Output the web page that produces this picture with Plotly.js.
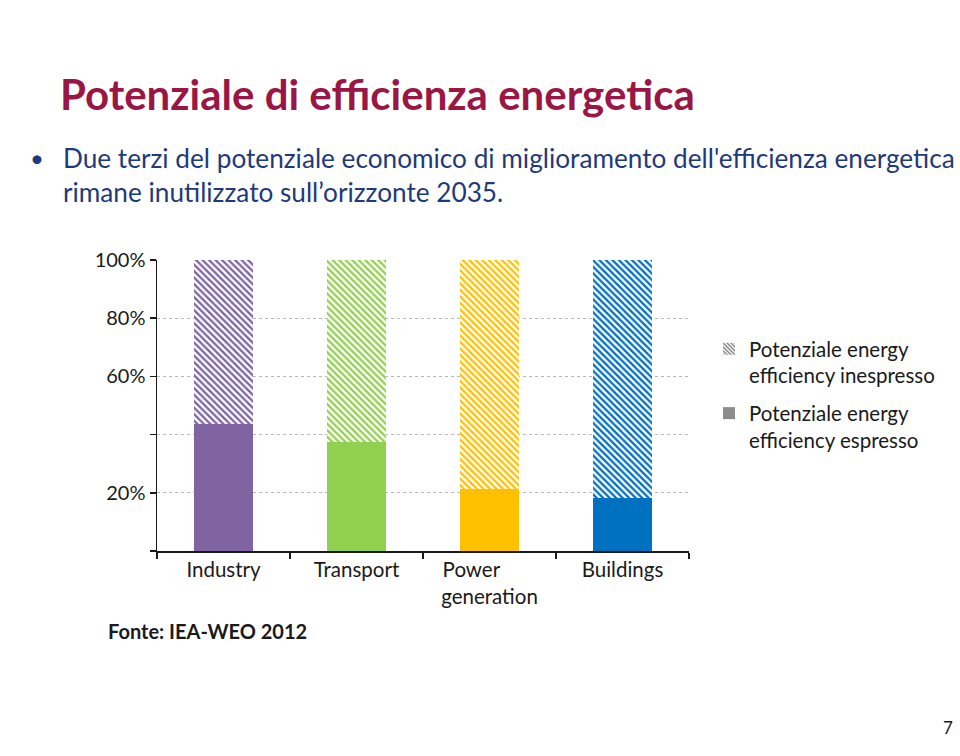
<!DOCTYPE html>
<html>
<head>
<meta charset="utf-8">
<script src="https://cdn.plot.ly/plotly-3.0.1.min.js"></script>
<style>
  html, body { margin: 0; padding: 0; background: #ffffff; }
  #chart { width: 960px; height: 756px; }
</style>
</head>
<body>
<div id="chart"></div>
<script>
// ---- data ----
const categories = ["Industry", "Transport", "Power\u00A0\u00A0\u00A0\u00A0\u00A0\u00A0\u00A0<br>generation", "Buildings"];
const espresso   = [0.436, 0.375, 0.213, 0.182];   // solid part
const inespresso = [0.564, 0.625, 0.787, 0.818];   // hatched part
const barColors  = ["#8064A2", "#92D050", "#FFC000", "#0070C0"];
const yTickVals  = [0, 0.2, 0.4, 0.6, 0.8, 1.0];
const yTickText  = ["", "20%", "", "60%", "80%", "100%"];
const legendNames = ["Potenziale energy<br>efficiency inespresso", "Potenziale energy<br>efficiency espresso"];

const FONT = "Lato, 'Open Sans', sans-serif";

const traces = [
  {
    type: "bar", x: categories, y: espresso,
    marker: { color: barColors, line: { width: 0 } },
    showlegend: false, hoverinfo: "skip"
  },
  {
    type: "bar", x: categories, y: inespresso,
    marker: { color: "#ffffff",
      pattern: { shape: "\\", fgcolor: barColors, bgcolor: "#ffffff", fgopacity: 1, size: 4.6, solidity: 0.5, fillmode: "replace" },
      line: { width: 0 } },
    showlegend: false, hoverinfo: "skip"
  },
  // legend-only entries (grey swatches as in the reference)
  {
    type: "bar", x: [categories[0]], y: [null], name: legendNames[0], legendgroup: "a",
    marker: { color: "#ffffff", pattern: { shape: "\\", fgcolor: "#7f7f7f", bgcolor: "#ffffff", fgopacity: 1, size: 3.5, solidity: 0.5, fillmode: "replace" } }
  },
  {
    type: "bar", x: [categories[0]], y: [null], name: legendNames[1], legendgroup: "b",
    marker: { color: "#8c8c8c" }
  }
];

const L = 157, R = 689, T = 260, B = 551;
const px = x => (x - L) / (R - L);
const py = y => (B - y) / (B - T);

const layout = {
  width: 960, height: 756,
  margin: { l: L, r: 960 - R, t: T, b: 756 - B, pad: 0 },
  paper_bgcolor: "#ffffff", plot_bgcolor: "rgba(0,0,0,0)",
  barmode: "stack", bargap: 0.56,
  font: { family: FONT, color: "#1a1a1a", size: 20 },
  title: {
    text: "<b>Potenziale di efficienza energetica</b>",
    font: { family: FONT, size: 42, color: "#9A1745" },
    x: 60 / 960, xanchor: "left", xref: "container",
    y: 1 - 95 / 756, yanchor: "middle", yref: "container"
  },
  xaxis: {
    type: "category",
    showline: true, linecolor: "#1a1a1a", linewidth: 1.5,
    ticks: "outside", tickson: "boundaries", ticklen: 6, tickcolor: "#1a1a1a", tickwidth: 1.5,
    showgrid: false, zeroline: false,
    tickfont: { family: FONT, size: 20.5, color: "#1a1a1a" },
    fixedrange: true
  },
  yaxis: {
    range: [0, 1], tickvals: yTickVals, ticktext: yTickText,
    showline: true, linecolor: "#1a1a1a", linewidth: 1.5,
    ticks: "outside", ticklen: 6, tickcolor: "#1a1a1a", tickwidth: 1.5,
    showgrid: true, gridcolor: "#b8b8b8", griddash: "dot", gridwidth: 1,
    zeroline: false,
    tickfont: { family: FONT, size: 20, color: "#1a1a1a" },
    fixedrange: true
  },
  showlegend: true,
  legend: {
    x: px(709), y: py(329), xanchor: "left", yanchor: "top",
    traceorder: "grouped", orientation: "v", valign: "top",
    font: { family: FONT, size: 20.5, color: "#1a1a1a" },
    bgcolor: "rgba(0,0,0,0)", itemwidth: 30, tracegroupgap: 8
  },
  annotations: [
    { text: "•", xref: "paper", yref: "paper", x: px(37), y: py(158), xanchor: "center", yanchor: "middle",
      showarrow: false, font: { family: FONT, size: 24, color: "#1F3A7A" } },
    { text: "Due terzi del potenziale economico di miglioramento dell'efficienza energetica", xref: "paper", yref: "paper",
      x: px(61), y: py(158), xanchor: "left", yanchor: "middle",
      showarrow: false, font: { family: FONT, size: 26.2, color: "#1F3A7A" } },
    { text: "rimane inutilizzato sull’orizzonte 2035.", xref: "paper", yref: "paper",
      x: px(61), y: py(192), xanchor: "left", yanchor: "middle",
      showarrow: false, font: { family: FONT, size: 26.2, color: "#1F3A7A" } },
    { text: "<b>Fonte: IEA-WEO 2012</b>", xref: "paper", yref: "paper",
      x: px(106), y: py(631), xanchor: "left", yanchor: "middle",
      showarrow: false, font: { family: FONT, size: 20, color: "#1a1a1a" } },
    { text: "7", xref: "paper", yref: "paper",
      x: px(955), y: py(727), xanchor: "right", yanchor: "middle",
      showarrow: false, font: { family: FONT, size: 17, color: "#1a1a1a" } }
  ]
};

Plotly.newPlot("chart", traces, layout, { displayModeBar: false, staticPlot: true });
</script>
</body>
</html>
